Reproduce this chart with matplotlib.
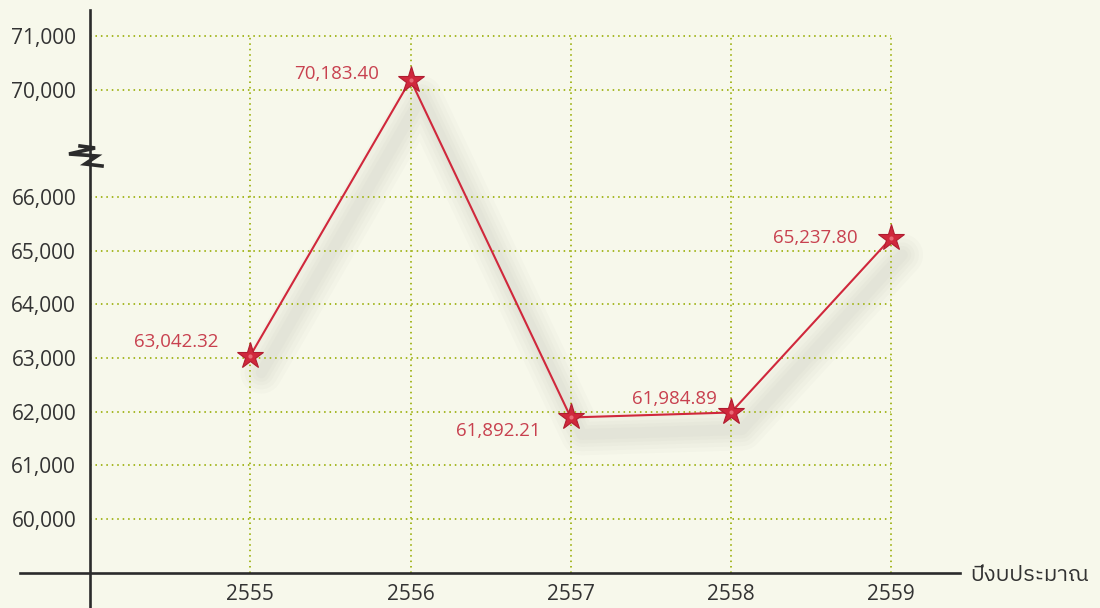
import numpy as np
import matplotlib
matplotlib.use("Agg")
import matplotlib.pyplot as plt
import matplotlib.transforms as mtransforms
from matplotlib import font_manager, ft2font

# data (Thai fiscal years, budget values)
years = [2555, 2556, 2557, 2558, 2559]
values = [63042.32, 70183.40, 61892.21, 61984.89, 65237.80]
value_labels = ['63,042.32', '70,183.40', '61,892.21', '61,984.89', '65,237.80']
ytick_values = [60000, 61000, 62000, 63000, 64000, 65000, 66000, 70000, 71000]
ytick_labels = ['60,000', '61,000', '62,000', '63,000', '64,000', '65,000', '66,000', '70,000', '71,000']
xlabel_text = 'ปีงบประมาณ'

# broken axis: everything above the break is shifted down by 2000
BREAK_SHIFT = 2000
def squash(v):
  return v - BREAK_SHIFT if v >= 68000 else v

def find_thai_font():
  # look for an installed font that has Thai glyphs
  found = []
  for f in font_manager.fontManager.ttflist:
    try:
      if 0x0E1B in ft2font.FT2Font(f.fname).get_charmap():
        found.append(f.name)
    except Exception:
      pass
  for name in found:
    if 'Sans' in name:
      return name
  return found[0] if found else 'DejaVu Sans'

thai_font = find_thai_font()
num_font = ['Open Sans', 'DejaVu Sans']

bg = '#f7f8eb'
red = '#d0283c'
label_red = '#c8414f'
grid_col = '#a6b826'
ink = '#2b2b2b'

fig = plt.figure(figsize=(11, 6.08), dpi=100, facecolor=bg)
ax = fig.add_axes([20/1100, 1/608, 940/1100, 597/608])
ax.set_facecolor(bg)
ax.set_xlim(2553.563, 2559.429)
ax.set_ylim(58361, 69484)

yplot = [squash(v) for v in values]

# grid: horizontal dotted lines and vertical ones at each year
gy = [squash(v) for v in ytick_values]
ax.hlines(gy, 2554, years[-1], colors=grid_col, linewidth=1.4,
          linestyles=(0, (0.8, 2.0)), zorder=2)
ax.vlines(years, 59000, squash(71000), colors=grid_col, linewidth=1.4,
          linestyles=(0, (0.8, 2.0)), zorder=2)

# soft shadow under the line
for w in [30, 24, 18, 13, 8]:
  sh = mtransforms.offset_copy(ax.transData, fig=fig, x=11, y=-17, units='dots')
  ax.plot(years, yplot, color='#9c9c96', alpha=0.045, linewidth=w,
          solid_capstyle='round', solid_joinstyle='round', transform=sh, zorder=1)

ax.plot(years, yplot, color=red, linewidth=1.5, zorder=3)
ax.plot(years, yplot, linestyle='none', marker='*', markersize=20,
        color=red, markeredgecolor='#b01c30', markeredgewidth=0.8, zorder=4)
ax.plot(years, yplot, linestyle='none', marker='o', markersize=3,
        color='#e96a76', markeredgewidth=0, zorder=5)

# value labels (offsets in points)
offsets = [(-23, 10), (-23, 4), (-22, -10), (-10, 10), (-24, 0)]
for x, y, t, off in zip(years, yplot, value_labels, offsets):
  ax.annotate(t, (x, y), xytext=off, textcoords='offset points',
              ha='right', va='center', fontsize=13.5, color=label_red,
              family=num_font, zorder=6)

# axes lines through 2554 / 59000
for s in ['top', 'right']:
  ax.spines[s].set_visible(False)
ax.spines['left'].set_position(('data', 2554))
ax.spines['bottom'].set_position(('data', 59000))
for s in ['left', 'bottom']:
  ax.spines[s].set_color(ink)
  ax.spines[s].set_linewidth(1.9)

ax.set_xticks(years)
ax.set_xticklabels([str(y) for y in years], family=num_font, fontsize=15, color='#333333')
ax.set_yticks(gy)
ax.set_yticklabels(ytick_labels, family=num_font, fontsize=15, color='#333333')
ax.tick_params(axis='x', length=0, pad=8)
ax.tick_params(axis='y', length=0, pad=10)

# zigzag break mark on the y axis (pixel offsets from the break point)
zz = np.array([(-10, -10), (5, -8), (-21, -2), (7, 0), (-5, 8), (12, 10)], dtype=float)
anchor = mtransforms.ScaledTranslation(2554, 66764, ax.transData)
ax.plot(zz[:, 0]/100, -zz[:, 1]/100, color=ink, linewidth=2.6,
        solid_joinstyle='miter', transform=fig.dpi_scale_trans + anchor,
        clip_on=False, zorder=6)

fig.text(970/1100, 1 - 575/608, xlabel_text, ha='left', va='center',
         fontsize=16, color='#333333', family=[thai_font, 'DejaVu Sans'])

fig.savefig('out.png', dpi=100, facecolor=bg)
